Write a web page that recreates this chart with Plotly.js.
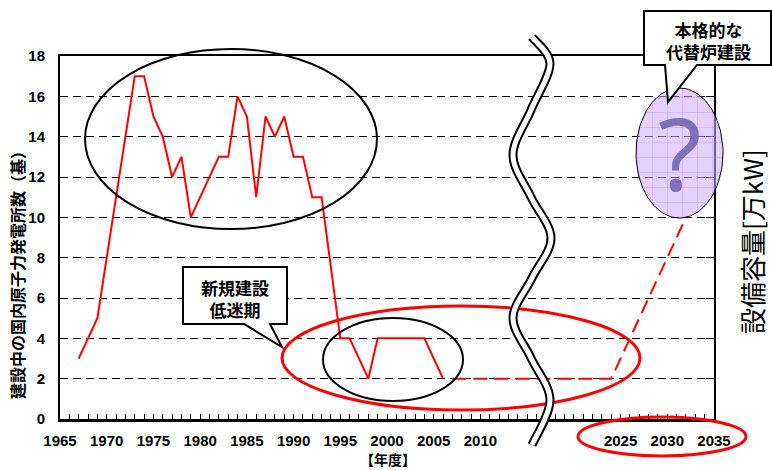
<!DOCTYPE html>
<html><head><meta charset="utf-8">
<script src="https://cdn.plot.ly/plotly-3.0.1.min.js"></script>
<style>html,body{margin:0;padding:0;background:#fff}#chart{width:772px;height:470px}</style>
</head><body><div id="chart"></div>
<script>
// ---- data ----
const years = [1967,1968,1969,1970,1971,1972,1973,1974,1975,1976,1977,1978,1979,1980,1981,1982,1983,1984,1985,1986,1987,1988,1989,1990,1991,1992,1993,1995,1996,1997,1998,1999,2000,2001,2002,2003,2004,2005,2006];
const plantsUnderConstruction = [3,4,5,8,11,14,17,17,15,14,12,13,10,11,12,13,13,16,15,11,15,14,15,13,13,11,11,4,4,3,2,4,4,4,4,4,4,3,2];
const outlookYears = [2007, 2024, 2032];
const outlookValues = [2, 2, 10];
const xTickLabels = ['1965','1970','1975','1980','1985','1990','1995','2000','2005','2010','2025','2030','2035'];
const yTickValues = [0,2,4,6,8,10,12,14,16,18];
const yTitle = '建設中の国内原子力発電所数（基）';
const xTitle = '【年度】';
const rightTitle = '設備容量[万kW]';
const calloutLow = '新規建設<br>低迷期';
const calloutFuture = '本格的な<br>代替炉建設';

// ---- helpers (figure pixel -> paper) ----
const W = 772, H = 470;
const px = x => x / W;
const py = y => 1 - y / H;

const allYears = [];
for (let y = 1965; y <= 2035; y++) allYears.push(y);
const tickText = allYears.map(y => xTickLabels.includes(String(y)) ? String(y) : '');

// wave break path (decoration), Catmull-Rom through pixel points
const wavePts = [[532,37],[550,64],[531,110],[513,155],[531,197],[551,238],[532,278],[513,318],[531,358],[550,400],[532,445]];
function crPath(pts){
  const P = pts.map(p => [px(p[0]), py(p[1])]);
  let d = 'M ' + P[0][0] + ',' + P[0][1];
  for (let i = 0; i < P.length - 1; i++) {
    const p0 = P[Math.max(0,i-1)], p1 = P[i], p2 = P[i+1], p3 = P[Math.min(P.length-1,i+2)];
    const c1 = [p1[0] + (p2[0]-p0[0])/6, p1[1] + (p2[1]-p0[1])/6];
    const c2 = [p2[0] - (p3[0]-p1[0])/6, p2[1] - (p3[1]-p1[1])/6];
    d += ' C ' + c1.join(',') + ' ' + c2.join(',') + ' ' + p2.join(',');
  }
  return d;
}
function polyPath(pts){
  return 'M ' + pts.map(p => px(p[0]) + ',' + py(p[1])).join(' L ') + ' Z';
}
const wave = crPath(wavePts);

// purple ellipse outline (decoration) in pixel space on overlay axes
const ex = [], ey = [];
for (let i = 0; i <= 120; i++) {
  const t = i / 120 * 2 * Math.PI;
  ex.push(679.5 + 43.5 * Math.cos(t));
  ey.push(153 + 65 * Math.sin(t));
}

const traces = [
  {x: years, y: plantsUnderConstruction, type: 'scatter', mode: 'lines',
   line: {color: '#ff0000', width: 2}, hoverinfo: 'skip', xaxis: 'x', yaxis: 'y'},
  {x: outlookYears, y: outlookValues, type: 'scatter', mode: 'lines',
   line: {color: '#ff0000', width: 2, dash: '14px,7px'}, hoverinfo: 'skip', xaxis: 'x', yaxis: 'y'},
  {x: ex, y: ey, type: 'scatter', mode: 'lines', fill: 'toself',
   fillcolor: 'rgba(205,170,255,0.55)',
   fillpattern: {shape: '+', size: 15, solidity: 0.07, fgcolor: 'rgba(185,130,250,0.6)', bgcolor: 'rgba(205,170,255,0.55)'},
   line: {color: '#000', width: 1}, hoverinfo: 'skip', xaxis: 'x2', yaxis: 'y2'}
];

const tickFont = {family: 'Liberation Sans, Arial, sans-serif', size: 15, color: '#000', weight: 'bold'};
const cjk = 'Noto Sans CJK JP, sans-serif';

function note(x, y, text, font, extra){
  return Object.assign({xref: 'paper', yref: 'paper', x: px(x), y: py(y), text: text, showarrow: false,
    xanchor: 'center', yanchor: 'middle', font: font}, extra || {});
}

const layout = {
  width: W, height: H,
  margin: {l: 0, r: 0, t: 0, b: 0},
  paper_bgcolor: '#fff', plot_bgcolor: 'rgba(0,0,0,0)',
  showlegend: false,
  xaxis: {domain: [px(60), px(714)], range: [1965, 2035], anchor: 'y',
    tickmode: 'array', tickvals: allYears, ticktext: tickText,
    ticks: 'inside', ticklen: 5, tickwidth: 1, tickcolor: '#000',
    showline: true, linewidth: 2.5, linecolor: '#000', mirror: true,
    showgrid: false, zeroline: false, tickfont: tickFont, ticklabelstandoff: 6, fixedrange: true},
  yaxis: {domain: [py(419), py(56)], range: [0, 18], anchor: 'x',
    tickmode: 'array', tickvals: yTickValues,
    ticks: 'inside', ticklen: 8, tickwidth: 1, tickcolor: '#000',
    showline: true, linewidth: 2, linecolor: '#000', mirror: 'ticks',
    showgrid: true, gridcolor: '#000', gridwidth: 1, griddash: '8px,5px',
    zeroline: false, tickfont: tickFont, ticklabelstandoff: 10, fixedrange: true},
  xaxis2: {domain: [0, 1], range: [0, W], anchor: 'y2', visible: false, fixedrange: true},
  yaxis2: {domain: [0, 1], range: [H, 0], anchor: 'x2', visible: false, fixedrange: true},
  shapes: [
    // callout boxes
    {type: 'path', xref: 'paper', yref: 'paper', layer: 'above',
     path: polyPath([[183,267],[287,267],[287,324],[270,324],[282,347],[244,324],[183,324]]),
     fillcolor: '#fff', line: {color: '#000', width: 2}},
    {type: 'path', xref: 'paper', yref: 'paper', layer: 'above',
     path: polyPath([[644,11],[771,11],[771,65],[697,65],[668,102],[665,65],[644,65]]),
     fillcolor: '#fff', line: {color: '#000', width: 2}},
    // ellipses
    {type: 'circle', xref: 'paper', yref: 'paper', layer: 'above',
     x0: px(85), x1: px(377), y0: py(229), y1: py(49), line: {color: '#000', width: 2}},
    {type: 'circle', xref: 'paper', yref: 'paper', layer: 'above',
     x0: px(323), x1: px(463), y0: py(401), y1: py(318), line: {color: '#000', width: 2}},
    {type: 'circle', xref: 'paper', yref: 'paper', layer: 'above',
     x0: px(282), x1: px(640), y0: py(410), y1: py(306), line: {color: '#ff0000', width: 3}},
    {type: 'circle', xref: 'paper', yref: 'paper', layer: 'above',
     x0: px(578), x1: px(746), y0: py(456), y1: py(417), line: {color: '#ff0000', width: 3}},
    // axis break wave
    {type: 'path', xref: 'paper', yref: 'paper', layer: 'above', path: wave, line: {color: '#000', width: 9}},
    {type: 'path', xref: 'paper', yref: 'paper', layer: 'above', path: wave, line: {color: '#fff', width: 5}}
  ],
  annotations: [
    note(17, 271, yTitle, {family: cjk, size: 16, color: '#000', weight: 'bold'}, {textangle: -90}),
    note(388, 459, xTitle, {family: cjk, size: 14, color: '#000', weight: 'bold'}),
    note(752, 242, rightTitle, {family: cjk, size: 26, color: '#000'}, {textangle: -90}),
    note(235, 298, calloutLow, {family: cjk, size: 17, color: '#000', weight: 'bold'}),
    note(708, 40, calloutFuture, {family: cjk, size: 17, color: '#000', weight: 'bold'}),
    note(679, 152, '?', {family: 'Noto Sans, sans-serif', size: 100, color: 'rgba(110,95,170,0.85)'})
  ]
};

Plotly.newPlot('chart', traces, layout, {displayModeBar: false, staticPlot: true});
</script>
</body></html>
